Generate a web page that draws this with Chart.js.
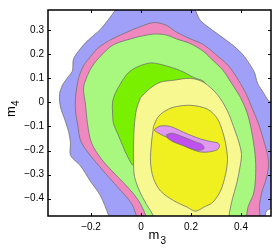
<!DOCTYPE html>
<html>
<head>
<meta charset="utf-8">
<script src="https://cdn.jsdelivr.net/npm/chart.js@4.4.0/dist/chart.umd.min.js"></script>
<style>
  html, body { margin: 0; padding: 0; background: #fff; }
  #myChart { display: block; }
</style>
</head>
<body>
<canvas id="myChart" width="273" height="248"></canvas>
<script>
// contour levels, outermost first, points are [m3, m4]
const level1 = [[-0.094,0.404],[0.198,0.404],[0.238,0.34],[0.286,0.30],[0.334,0.264],[0.374,0.232],[0.406,0.20],
  [0.434,0.16],[0.454,0.124],[0.466,0.08],[0.49,0.04],[0.51,0.008],[0.538,-0.008],[0.538,-0.424],[0.502,-0.452],
  [0.486,-0.496],[-0.122,-0.496],[-0.13,-0.468],[-0.162,-0.388],[-0.202,-0.328],[-0.242,-0.264],[-0.282,-0.22],
  [-0.282,-0.168],[-0.29,-0.12],[-0.306,-0.068],[-0.322,-0.02],[-0.326,0.032],[-0.314,0.072],[-0.29,0.108],
  [-0.274,0.132],[-0.27,0.18],[-0.242,0.224],[-0.21,0.26],[-0.162,0.304],[-0.102,0.384]];
const level2 = [[-0.03,0.304],[0.05,0.332],[0.102,0.32],[0.142,0.292],[0.198,0.264],[0.25,0.24],[0.298,0.2],
  [0.35,0.152],[0.39,0.092],[0.422,0.032],[0.446,-0.028],[0.47,-0.088],[0.49,-0.156],[0.506,-0.216],[0.51,-0.268],
  [0.498,-0.328],[0.482,-0.376],[0.474,-0.428],[0.466,-0.496],[-0.01,-0.496],[-0.018,-0.472],[-0.038,-0.42],
  [-0.09,-0.356],[-0.158,-0.276],[-0.238,-0.168],[-0.254,-0.088],[-0.262,-0.036],[-0.262,0.02],[-0.25,0.1],
  [-0.23,0.152],[-0.21,0.18],[-0.174,0.224],[-0.122,0.26]];
const level3 = [[-0.014,0.272],[0.05,0.284],[0.102,0.28],[0.142,0.264],[0.198,0.244],[0.25,0.212],[0.29,0.172],
  [0.326,0.136],[0.362,0.08],[0.398,0.02],[0.426,-0.048],[0.446,-0.14],[0.458,-0.236],[0.458,-0.316],[0.45,-0.38],
  [0.43,-0.428],[0.406,-0.496],[0.018,-0.496],[0.018,-0.468],[-0.01,-0.408],[-0.05,-0.356],[-0.102,-0.3],
  [-0.158,-0.236],[-0.198,-0.168],[-0.214,-0.088],[-0.222,-0.008],[-0.23,0.06],[-0.214,0.112],[-0.194,0.152],
  [-0.162,0.192],[-0.11,0.24]];
const level4 = [[-0.074,0.092],[-0.05,0.124],[-0.014,0.148],[0.038,0.164],[0.086,0.156],[0.158,0.132],[0.21,0.104],
  [0.254,0.084],[0.258,0.032],[0.158,-0.048],[0.038,-0.168],[-0.014,-0.248],[-0.03,-0.264],[-0.058,-0.216],
  [-0.078,-0.168],[-0.094,-0.128],[-0.11,-0.088],[-0.114,-0.04],[-0.114,0],[-0.102,0.04]];
const level5 = [[-0.002,0.02],[0.038,0.06],[0.078,0.084],[0.13,0.092],[0.198,0.1],[0.25,0.084],[0.306,0.032],
  [0.346,-0.036],[0.37,-0.1],[0.39,-0.16],[0.402,-0.216],[0.394,-0.28],[0.382,-0.34],[0.366,-0.4],[0.354,-0.456],
  [0.346,-0.496],[0.058,-0.496],[0.046,-0.464],[0.022,-0.424],[-0.006,-0.368],[-0.026,-0.308],[-0.03,-0.248],
  [-0.03,-0.168],[-0.026,-0.088],[-0.018,-0.028]];
const level6 = [[0.05,-0.1],[0.066,-0.064],[0.09,-0.04],[0.13,-0.02],[0.198,-0.012],[0.266,-0.028],[0.306,-0.068],
  [0.326,-0.12],[0.338,-0.168],[0.346,-0.236],[0.338,-0.3],[0.318,-0.368],[0.286,-0.416],[0.25,-0.436],
  [0.218,-0.452],[0.186,-0.436],[0.13,-0.408],[0.078,-0.368],[0.05,-0.316],[0.038,-0.248],[0.042,-0.168]];
const level7 = [[0.058,-0.108],[0.078,-0.098],[0.118,-0.1],[0.17,-0.124],[0.238,-0.152],[0.286,-0.164],[0.306,-0.168],
  [0.314,-0.18],[0.306,-0.196],[0.27,-0.206],[0.238,-0.206],[0.206,-0.196],[0.158,-0.172],[0.11,-0.148],
  [0.07,-0.128],[0.054,-0.116]];
const level8 = [[0.102,-0.134],[0.126,-0.128],[0.17,-0.144],[0.218,-0.164],[0.246,-0.176],[0.252,-0.192],
  [0.238,-0.198],[0.21,-0.196],[0.17,-0.18],[0.13,-0.164],[0.106,-0.148]];

const levelColors = ['#a0a0f8', '#f088c0', '#a8f880', '#78f000', '#f8f890', '#f0f020', '#e098f0', '#c050f0'];
const xTicks = [-0.2, 0, 0.2, 0.4];
const yTicks = [-0.4, -0.3, -0.2, -0.1, 0, 0.1, 0.2, 0.3];

const contours = [level1, level2, level3, level4, level5, level6, level7, level8];
const fontFamily = '"Liberation Sans", Arial, Helvetica, sans-serif';

function fmtTick(v) {
  if (Math.abs(v) < 1e-9) return '0';
  return (v < 0 ? '\u2212' : '') + Math.abs(v).toFixed(1);
}

// 框和刻度线（向内），以及带下标的坐标轴标题
const framePlugin = {
  id: 'frame',
  afterDraw(chart) {
    const ctx = chart.ctx;
    const a = chart.chartArea;
    const xs = chart.scales.x, ys = chart.scales.y;
    ctx.save();
    ctx.strokeStyle = '#000';
    ctx.lineWidth = 1;
    ctx.beginPath();
    xTicks.forEach(v => {
      const px = Math.round(xs.getPixelForValue(v)) + 0.5;
      ctx.moveTo(px, a.bottom); ctx.lineTo(px, a.bottom - 3);
      ctx.moveTo(px, a.top); ctx.lineTo(px, a.top + 3);
    });
    yTicks.forEach(v => {
      const py = Math.round(ys.getPixelForValue(v)) + 0.5;
      ctx.moveTo(a.left, py); ctx.lineTo(a.left + 3, py);
      ctx.moveTo(a.right, py); ctx.lineTo(a.right - 3, py);
    });
    ctx.stroke();
    ctx.lineWidth = 1.5;
    ctx.strokeRect(a.left, a.top, a.right - a.left, a.bottom - a.top);

    ctx.fillStyle = '#000';
    ctx.textBaseline = 'alphabetic';
    ctx.textAlign = 'left';
    // x title: m_3
    const cx = (a.left + a.right) / 2;
    ctx.font = '13px ' + fontFamily;
    ctx.fillText('m', cx - 11, a.bottom + 23);
    ctx.font = '10px ' + fontFamily;
    ctx.fillText('3', cx + 1, a.bottom + 28);
    // y title: m_4
    const cy = (a.top + a.bottom) / 2;
    ctx.translate(15, cy + 4);
    ctx.rotate(-Math.PI / 2);
    ctx.font = '13px ' + fontFamily;
    ctx.fillText('m', 0, 0);
    ctx.font = '10px ' + fontFamily;
    ctx.fillText('4', 11, 4);
    ctx.restore();
  }
};

const datasets = contours.map((pts, i) => ({
  data: pts.concat([pts[0]]).map(p => ({x: p[0], y: p[1]})),
  showLine: true,
  fill: 'shape',
  backgroundColor: levelColors[i],
  borderColor: '#707070',
  borderWidth: 0.8,
  pointRadius: 0,
  pointHoverRadius: 0,
  tension: 0.3,
  order: contours.length - i
}));

const config = {
  type: 'scatter',
  data: { datasets: datasets },
  options: {
    responsive: false,
    animation: false,
    devicePixelRatio: 1,
    layout: { padding: { top: 2, right: 2, left: 0, bottom: 0 } },
    elements: { line: { capBezierPoints: false } },
    plugins: { legend: { display: false }, tooltip: { enabled: false } },
    scales: {
      x: {
        type: 'linear', min: -0.372, max: 0.52,
        grid: { display: false, drawTicks: false },
        border: { display: false },
        afterBuildTicks: s => { s.ticks = xTicks.map(v => ({value: v})); },
        afterFit: s => { s.height = 32; },
        ticks: { color: '#000', padding: 5, maxRotation: 0, autoSkip: false,
                 font: { family: fontFamily, size: 10 }, callback: fmtTick }
      },
      y: {
        type: 'linear', min: -0.472, max: 0.384,
        grid: { display: false, drawTicks: false },
        border: { display: false },
        afterBuildTicks: s => { s.ticks = yTicks.map(v => ({value: v})); },
        afterFit: s => { s.width = 48; },
        ticks: { color: '#000', padding: 4, autoSkip: false,
                 font: { family: fontFamily, size: 10 }, callback: fmtTick }
      }
    }
  },
  plugins: [framePlugin]
};

const ctx = document.getElementById('myChart').getContext('2d');
const myChart = new Chart(ctx, config);
</script>
</body>
</html>
